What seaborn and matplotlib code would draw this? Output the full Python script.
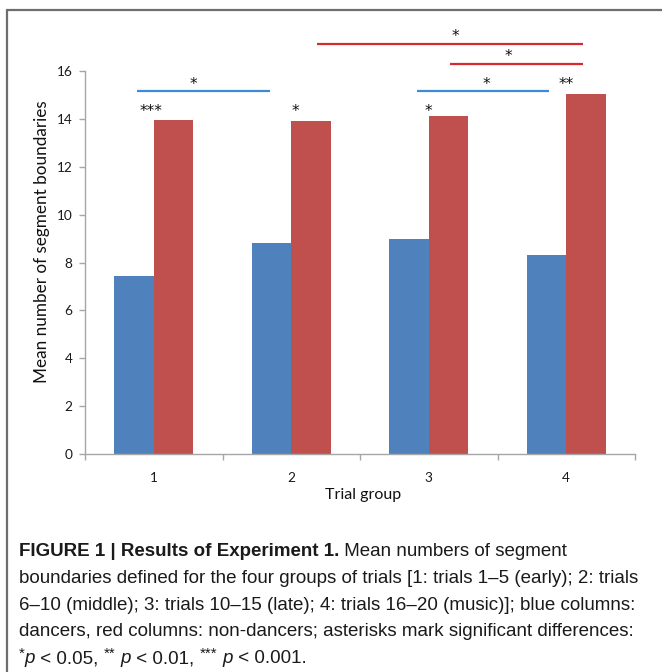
import matplotlib
matplotlib.use("Agg")
import matplotlib.pyplot as plt
import matplotlib.transforms as mtransforms
from matplotlib import font_manager
from matplotlib.lines import Line2D
import seaborn as sns
import pandas as pd

# ---- data -------------------------------------------------------------
trial_groups = ["1", "2", "3", "4"]
dancers = [7.45, 8.8, 9.0, 8.3]
non_dancers = [13.95, 13.9, 14.1, 15.05]
y_ticks = [0, 2, 4, 6, 8, 10, 12, 14, 16]

# significance brackets (category units along x, data units along y)
bracket_x0 = [-0.12, 1.915, 1.187, 2.155]
bracket_x1 = [0.845, 2.875, 3.122, 3.122]
bracket_y = [15.18, 15.18, 17.13, 16.30]
bracket_kind = ["dancers", "dancers", "non-dancers", "non-dancers"]

star_labels = ["***", "*", "*", "*", "*", "**", "*", "*"]
star_x = [-0.02, 0.29, 1.03, 2.00, 2.42, 3.00, 2.58, 2.19]
star_y = [14.49, 15.62, 14.49, 14.49, 15.62, 15.62, 16.79, 17.63]

caption_lines = [
    [("FIGURE 1 | Results of Experiment 1.", "bold"), (" Mean numbers of segment", "normal")],
    [("boundaries defined for the four groups of trials [1: trials 1\u20135 (early); 2: trials", "normal")],
    [("6\u201310 (middle); 3: trials 10\u201315 (late); 4: trials 16\u201320 (music)]; blue columns:", "normal")],
    [("dancers, red columns: non-dancers; asterisks mark significant differences:", "normal")],
    [("*", "sup"), ("p", "italic"), (" < 0.05, ", "normal"), ("**", "sup"), (" ", "normal"),
     ("p", "italic"), (" < 0.01, ", "normal"), ("***", "sup"), (" ", "normal"),
     ("p", "italic"), (" < 0.001.", "normal")],
]

# ---- style ------------------------------------------------------------
sns.set_theme(style="white")
plt.rcParams["font.family"] = ["Lato", "DejaVu Sans"]

BAR_COLORS = {"dancers": "#4F81BD", "non-dancers": "#C0504D"}
LINE_COLORS = {"dancers": "#3A8BD8", "non-dancers": "#D42A30"}
AXIS_GREY = "#A6A6A6"

names = {f.name for f in font_manager.fontManager.ttflist}
caption_family = "Liberation Sans Narrow" if "Liberation Sans Narrow" in names else "Liberation Sans"
caption_size = 16.0 if caption_family == "Liberation Sans Narrow" else 13.5

W, H = 662, 672
fig = plt.figure(figsize=(W / 100, H / 100), dpi=100)
fig.patch.set_facecolor("white")

# panel frame (top and left edges)
fig.add_artist(Line2D([7 / W, 1.0], [1 - 9.5 / H, 1 - 9.5 / H], color="#6E6E6E", lw=1.6))
fig.add_artist(Line2D([7 / W, 7 / W], [0.0, 1 - 9.5 / H], color="#6E6E6E", lw=1.6))

ax = fig.add_axes([85 / W, (H - 454) / H, 550 / W, 383 / H])

df = pd.DataFrame({
    "group": trial_groups * 2,
    "value": dancers + non_dancers,
    "cohort": ["dancers"] * len(trial_groups) + ["non-dancers"] * len(trial_groups),
})

sns.barplot(data=df, x="group", y="value", hue="cohort", order=trial_groups,
            hue_order=["dancers", "non-dancers"], palette=BAR_COLORS,
            saturation=1, width=0.575, gap=0, errorbar=None, legend=False,
            linewidth=0, ax=ax)

ax.set_xlim(-0.5, 3.5)
ax.set_ylim(0, 16)
ax.set_yticks(y_ticks)
ax.set_facecolor("white")
for side in ("top", "right"):
    ax.spines[side].set_visible(False)
for side in ("left", "bottom"):
    ax.spines[side].set_color(AXIS_GREY)
    ax.spines[side].set_linewidth(1.0)

ax.tick_params(axis="y", which="major", direction="out", length=4, width=1,
               color=AXIS_GREY, labelsize=9.8, labelcolor="#1a1a1a", pad=5, left=True)
ax.set_xticks([-0.5, 0.5, 1.5, 2.5, 3.5], minor=True)
ax.tick_params(axis="x", which="minor", direction="out", length=4, width=1,
               color=AXIS_GREY, bottom=True)
ax.tick_params(axis="x", which="major", length=0, labelsize=9.8,
               labelcolor="#1a1a1a", pad=13)

ax.set_xlabel("Trial group", fontsize=11.5, color="#111111")
ax.set_ylabel("Mean number of segment boundaries", fontsize=12.3, color="#111111")
ax.xaxis.set_label_coords(0.505, -0.088)
ax.yaxis.set_label_coords(-0.063, 0.555)

# significance brackets and stars
for x0, x1, y, kind in zip(bracket_x0, bracket_x1, bracket_y, bracket_kind):
    ax.plot([x0, x1], [y, y], color=LINE_COLORS[kind], lw=1.6,
            solid_capstyle="butt", clip_on=False)

star_size = 11
star_tr = mtransforms.offset_copy(ax.transData, fig=fig, x=0, y=-0.6 * star_size, units="points")
for lab, x, y in zip(star_labels, star_x, star_y):
    ax.text(x, y, lab, ha="center", va="baseline", fontsize=star_size,
            family="DejaVu Sans", color="#111111", transform=star_tr, clip_on=False)

# ---- caption ----------------------------------------------------------
renderer = fig.canvas.get_renderer()


def text_width(s, **kw):
    # width including any leading/trailing spaces
    a = fig.text(0, 0, "x" + s + "x", **kw)
    b = fig.text(0, 0, "xx", **kw)
    w = a.get_window_extent(renderer).width - b.get_window_extent(renderer).width
    a.remove()
    b.remove()
    return w


x_left = 19
line_y0 = 556
line_step = 26.8
for i, segments in enumerate(caption_lines):
    x = x_left
    y_base = line_y0 + i * line_step
    for s, style in segments:
        kw = dict(family=caption_family, fontsize=caption_size, color="#1a1a1a")
        dy = 0
        if style == "bold":
            kw["fontweight"] = "bold"
        elif style == "italic":
            kw["fontstyle"] = "italic"
        elif style == "sup":
            kw["fontsize"] = caption_size * 0.8
            dy = -5
        fig.text(x / W, 1 - (y_base + dy) / H, s, va="baseline", ha="left", **kw)
        x += text_width(s, **kw)

fig.savefig("out.png", dpi=100, facecolor="white")
